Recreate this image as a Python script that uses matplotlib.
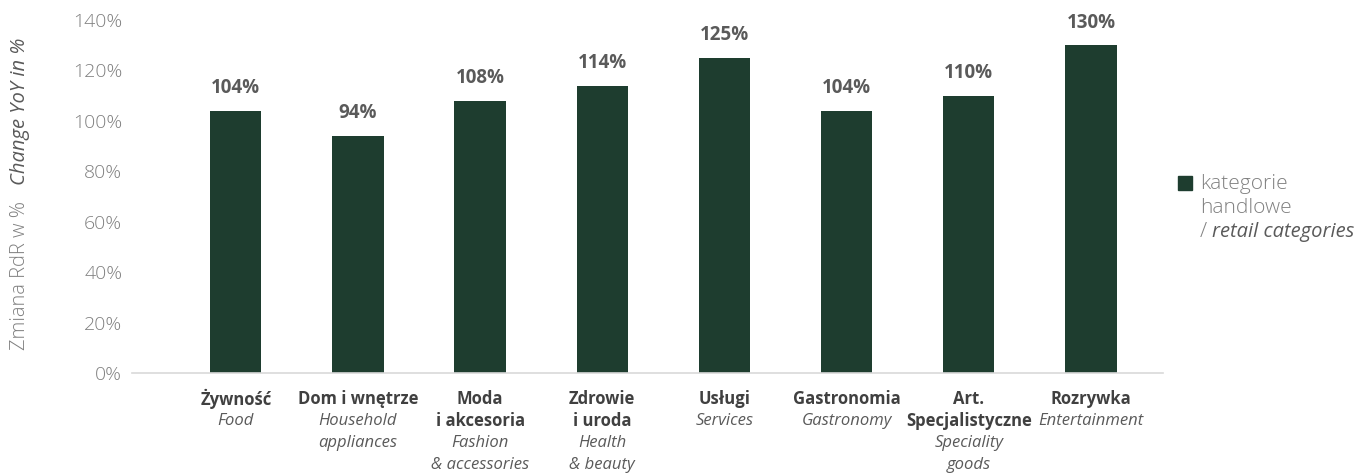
import matplotlib
matplotlib.use("Agg")
import matplotlib.pyplot as plt
from matplotlib.patches import Rectangle
from matplotlib.transforms import blended_transform_factory

plt.rcParams["font.family"] = ["Open Sans", "DejaVu Sans"]

# category names (Polish / English), one entry per line of the label
CAT_PL = [["Żywność"], ["Dom i wnętrze"], ["Moda", "i akcesoria"], ["Zdrowie", "i uroda"],
          ["Usługi"], ["Gastronomia"], ["Art.", "Specjalistyczne"], ["Rozrywka"]]
CAT_EN = [["Food"], ["Household", "appliances"], ["Fashion", "& accessories"],
          ["Health", "& beauty"], ["Services"], ["Gastronomy"], ["Speciality", "goods"],
          ["Entertainment"]]
VALUES = [104, 94, 108, 114, 125, 104, 110, 130]
Y_TICKS = [0, 20, 40, 60, 80, 100, 120, 140]

BAR = "#1e3d2f"
GREY_LIGHT = "#808080"
GREY_MID = "#5a5a5a"
GREY_DARK = "#404040"

fig = plt.figure(figsize=(13.59, 4.75), dpi=100)
ax = fig.add_axes([0.0971, 0.2147, 0.7587, 0.7433])

x = list(range(len(VALUES)))
ax.bar(x, VALUES, width=0.42, color=BAR, zorder=2)
ax.set_xlim(-0.85, 7.59)
ax.set_ylim(0, 140)
ax.set_yticks(Y_TICKS)
ax.set_yticklabels([f"{t}%" for t in Y_TICKS], fontsize=14, color=GREY_LIGHT,
                   fontweight="light")
ax.tick_params(axis="y", length=0, pad=7)
ax.set_xticks([])
for s in ("top", "right", "left"):
    ax.spines[s].set_visible(False)
ax.spines["bottom"].set_color("#d9d9d9")
ax.spines["bottom"].set_linewidth(1.2)

# value labels above bars
for xi, v in zip(x, VALUES):
    ax.annotate(f"{v}%", (xi, v), xytext=(0, 9), textcoords="offset points",
                ha="center", va="bottom", fontsize=13.5, fontweight="bold",
                color=GREY_MID)

# two-language category labels under the axis
trans = blended_transform_factory(ax.transData, ax.transAxes)
line_pt = 15.8
for xi, pl, en in zip(x, CAT_PL, CAT_EN):
    for i, line in enumerate(pl):
        ax.annotate(line, (xi, 0), xycoords=trans,
                    xytext=(0, -19 - i * line_pt), textcoords="offset points",
                    ha="center", va="center", fontsize=12, fontweight="bold",
                    color=GREY_DARK)
    for j, line in enumerate(en):
        ax.annotate(line, (xi, 0), xycoords=trans,
                    xytext=(0, -19 - (len(pl) + j) * line_pt),
                    textcoords="offset points", ha="center", va="center",
                    fontsize=12, fontstyle="italic", color=GREY_MID)

# y-axis title in two parts, read bottom to top
fig.text(0.0145, 0.263, "Zmiana RdR w %", rotation=90, rotation_mode="anchor",
         ha="left", va="center", fontsize=14.5, color=GREY_LIGHT, fontweight="light")
fig.text(0.0145, 0.61, "Change YoY in %", rotation=90, rotation_mode="anchor",
         ha="left", va="center", fontsize=14.5, color=GREY_MID, fontstyle="italic")

# legend
fig.patches.append(Rectangle((0.8665, 0.6), 0.0103, 0.0295, transform=fig.transFigure,
                             color=BAR))
fig.text(0.883, 0.612, "kategorie", ha="left", va="center", fontsize=15,
         color=GREY_LIGHT, fontweight="light")
fig.text(0.883, 0.562, "handlowe", ha="left", va="center", fontsize=15,
         color=GREY_LIGHT, fontweight="light")
fig.text(0.883, 0.511, "/", ha="left", va="center", fontsize=15,
         color=GREY_LIGHT, fontweight="light")
fig.text(0.8915, 0.511, "retail categories", ha="left", va="center", fontsize=14.5,
         color=GREY_MID, fontstyle="italic")

fig.savefig("out.png", dpi=100)
